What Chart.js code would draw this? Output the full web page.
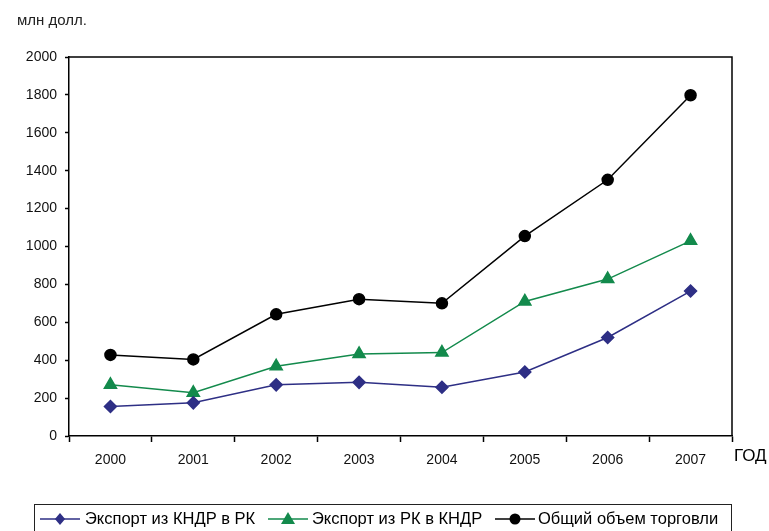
<!DOCTYPE html>
<html>
<head>
<meta charset="utf-8">
<script src="https://cdn.jsdelivr.net/npm/chart.js@4.4.1/dist/chart.umd.min.js"></script>
<style>
  html, body { margin: 0; padding: 0; background: #fff; }
  #wrap { width: 769px; height: 531px; position: relative; }
</style>
</head>
<body>
<div id="wrap"><canvas id="c" width="769" height="531"></canvas></div>
<script>
// Trade between the DPRK and the Republic of Korea, million USD
const years = ['2000', '2001', '2002', '2003', '2004', '2005', '2006', '2007'];
const exportDprkToRok = [156, 175, 270, 283, 257, 338, 520, 765];
const exportRokToDprk = [270, 228, 368, 433, 440, 710, 828, 1030];
const totalTrade = [428, 404, 642, 722, 700, 1055, 1352, 1798];
const yTicks = { min: 0, max: 2000, step: 200 };

const seriesNames = ['Экспорт из КНДР в РК', 'Экспорт из РК в КНДР', 'Общий объем торговли'];
const unitLabel = 'млн долл.';
const axisLabel = 'ГОД';

const FONT = '"Liberation Sans", Arial, sans-serif';
const NAVY = '#2E2F85';
const GREEN = '#138A4C';
const BLACK = '#000000';

// legend key positions: line start and text start for each series
const legendLineX = [40, 268, 495];
const legendTextX = [85, 312, 538];

function drawMarker(ctx, style, x, y, r) {
  if (style === 'rectRot') {
    ctx.moveTo(x, y - r);
    ctx.lineTo(x + r * 0.85, y);
    ctx.lineTo(x, y + r);
    ctx.lineTo(x - r * 0.85, y);
    ctx.closePath();
  } else if (style === 'triangle') {
    ctx.moveTo(x, y - r);
    ctx.lineTo(x + r, y + r * 0.7);
    ctx.lineTo(x - r, y + r * 0.7);
    ctx.closePath();
  } else {
    ctx.arc(x, y, r, 0, Math.PI * 2);
  }
}

// Frame, captions and the boxed legend with line-and-marker keys
const decorations = {
  id: 'decorations',
  afterDraw(chart) {
    const ctx = chart.ctx;
    const a = chart.chartArea;
    ctx.save();

    // top and right edges of the plot frame
    ctx.strokeStyle = '#000';
    ctx.lineWidth = 1.5;
    ctx.beginPath();
    ctx.moveTo(a.left, a.top);
    ctx.lineTo(a.right, a.top);
    ctx.lineTo(a.right, a.bottom);
    ctx.stroke();

    // unit caption
    ctx.fillStyle = '#222';
    ctx.font = '15px ' + FONT;
    ctx.textBaseline = 'middle';
    ctx.textAlign = 'left';
    ctx.fillText(unitLabel, 17, 21);

    // axis caption
    ctx.fillStyle = '#000';
    ctx.font = '17px ' + FONT;
    ctx.fillText(axisLabel, 734, 456);

    // legend box (its lower edge runs past the bottom of the canvas)
    ctx.lineWidth = 1;
    ctx.strokeStyle = '#222';
    ctx.strokeRect(34.5, 504.5, 697, 30);

    ctx.font = '16.5px ' + FONT;
    const cy = 519;
    chart.data.datasets.forEach((ds, i) => {
      const x = legendLineX[i];
      ctx.strokeStyle = ds.borderColor;
      ctx.lineWidth = 1.5;
      ctx.beginPath();
      ctx.moveTo(x, cy);
      ctx.lineTo(x + 40, cy);
      ctx.stroke();
      ctx.fillStyle = ds.pointBackgroundColor;
      ctx.beginPath();
      drawMarker(ctx, ds.pointStyle, x + 20, cy, ds.pointRadius);
      ctx.fill();
      ctx.fillStyle = '#000';
      ctx.fillText(ds.label, legendTextX[i], cy);
    });
    ctx.restore();
  }
};

const tickFont = { family: FONT, size: 14 };

new Chart(document.getElementById('c'), {
  type: 'line',
  data: {
    labels: years,
    datasets: [
      {
        label: seriesNames[0],
        data: exportDprkToRok,
        borderColor: NAVY,
        backgroundColor: NAVY,
        pointBackgroundColor: NAVY,
        pointBorderColor: NAVY,
        pointStyle: 'rectRot',
        pointRadius: 6,
        borderWidth: 1.5,
        tension: 0
      },
      {
        label: seriesNames[1],
        data: exportRokToDprk,
        borderColor: GREEN,
        backgroundColor: GREEN,
        pointBackgroundColor: GREEN,
        pointBorderColor: GREEN,
        pointStyle: 'triangle',
        pointRadius: 7,
        borderWidth: 1.5,
        tension: 0
      },
      {
        label: seriesNames[2],
        data: totalTrade,
        borderColor: BLACK,
        backgroundColor: BLACK,
        pointBackgroundColor: BLACK,
        pointBorderColor: BLACK,
        pointStyle: 'circle',
        pointRadius: 5.5,
        borderWidth: 1.5,
        tension: 0
      }
    ]
  },
  options: {
    responsive: false,
    animation: false,
    devicePixelRatio: 1,
    layout: { padding: { left: 0, right: 37, top: 57, bottom: 0 } },
    plugins: {
      legend: { display: false },
      tooltip: { enabled: false }
    },
    scales: {
      x: {
        type: 'category',
        offset: true,
        grid: { offset: true, drawOnChartArea: false, tickLength: 6, color: '#000', tickWidth: 1.5 },
        border: { display: true, color: '#000', width: 1.5 },
        ticks: { color: '#111', font: tickFont, padding: 10, maxRotation: 0 },
        afterFit(scale) { scale.height = 95; }
      },
      y: {
        min: yTicks.min,
        max: yTicks.max,
        grid: { drawOnChartArea: false, tickLength: 4, color: '#000', tickWidth: 1.5 },
        border: { display: true, color: '#000', width: 1.5 },
        ticks: {
          stepSize: yTicks.step,
          color: '#111',
          font: tickFont,
          padding: 8,
          callback: (v) => String(v)
        },
        afterFit(scale) { scale.width = 69; }
      }
    }
  },
  plugins: [decorations]
});
</script>
</body>
</html>
